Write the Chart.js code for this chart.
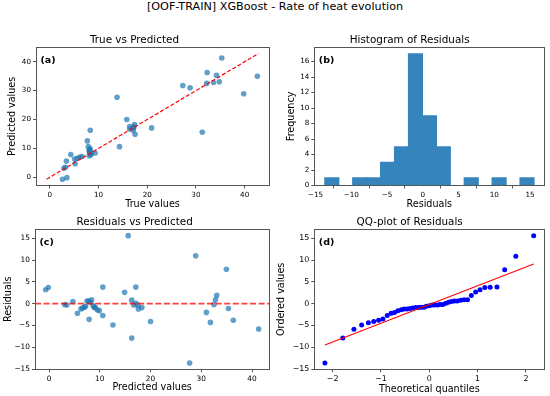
<!DOCTYPE html>
<html>
<head>
<meta charset="utf-8">
<script src="https://cdn.jsdelivr.net/npm/chart.js@4.4.1/dist/chart.umd.min.js"></script>
<style>
  body { margin:0; background:#fff; }
  #wrap { position:relative; width:550px; height:396px; overflow:hidden; font-family:"DejaVu Sans", sans-serif; }
  #sup { position:absolute; left:0; top:0; width:550px; text-align:center; font-size:11.2px; line-height:13px; color:#000; }
  canvas { position:absolute; }
</style>
</head>
<body>
<div id="wrap">
  <div id="sup">[OOF-TRAIN] XGBoost - Rate of heat evolution</div>
  <canvas id="ca" width="275" height="190" style="left:0px;top:22px"></canvas>
  <canvas id="cb" width="275" height="190" style="left:275px;top:22px"></canvas>
  <canvas id="cc" width="275" height="184" style="left:0px;top:212px"></canvas>
  <canvas id="cd" width="275" height="184" style="left:275px;top:212px"></canvas>
</div>
<script>
// predicted values (x in residual plot, y in true-vs-pred)
var predVals = [-0.66, -0.13, 3.1, 3.5, 4.7, 5.6, 6.3, 6.6, 7.0, 7.2, 7.5, 7.8, 7.9, 8.2, 8.4, 8.7, 8.9, 9.1, 9.5, 9.9,
  10.6, 10.6, 12.6, 14.9, 15.6, 16.3, 16.7, 17.1, 17.5, 17.6, 18.3, 17.1, 20.0, 16.3, 27.7, 28.9, 31.0, 31.8, 32.5, 32.8,
  33.05, 34.95, 35.35, 36.3, 41.3];
var trueVals = [2.6, 3.5, 2.9, 3.2, 5.2, 3.4, 5.1, 5.6, 6.2, 6.6, 8.1, 8.4, 4.3, 8.5, 9.3, 8.2, 8.1, 8.2, 8.1, 8.3,
  14.3, 7.9, 7.7, 17.5, 31.3, 17.1, 16.4, 17.2, 17.2, 16.4, 17.4, 20.9, 15.8, 8.3, 13.8, 39.8, 28.8, 27.3, 32.2, 33.6,
  34.8, 42.6, 34.2, 32.3, 35.3];
var residVals = [3.2, 3.7, -0.2, -0.3, 0.5, -2.2, -1.2, -1.0, -0.8, -0.6, 0.6, 0.6, -3.6, 0.3, 0.9, -0.5, -0.8, -0.9, -1.4, -1.6,
  3.8, -2.7, -4.9, 2.6, 15.6, 0.8, -0.3, 0.1, -0.3, -1.2, -0.9, 3.8, -4.1, -7.9, -13.6, 11.0, -2.0, -4.3, -0.2, 0.9,
  1.9, 7.9, -1.1, -3.8, -5.8];

// histogram
var binCenters = [-12.72, -10.77, -8.82, -6.87, -4.92, -2.97, -1.02, 0.93, 2.88, 4.83, 6.78, 8.73, 10.68, 12.63, 14.58];
var binCounts = [1, 0, 1, 1, 3, 5, 17, 9, 5, 0, 1, 0, 1, 0, 1];

// qq plot
var theoQ = [-2.16, -1.79, -1.56, -1.40, -1.26, -1.15, -1.05, -0.96, -0.87, -0.79, -0.72, -0.65, -0.58, -0.52, -0.46,
  -0.40, -0.34, -0.28, -0.22, -0.17, -0.11, -0.06, 0, 0.06, 0.11, 0.17, 0.22, 0.28, 0.34, 0.40, 0.46, 0.52, 0.58,
  0.65, 0.72, 0.79, 0.87, 0.96, 1.05, 1.15, 1.26, 1.40, 1.56, 1.79, 2.16];
var orderedVals = [-13.6, -7.9, -5.9, -4.9, -4.4, -4.1, -3.8, -3.5, -2.7, -2.2, -2.0, -1.6, -1.4, -1.2, -1.2, -1.1, -1.0,
  -0.9, -0.9, -0.8, -0.8, -0.6, -0.5, -0.3, -0.3, -0.3, -0.2, -0.2, 0.1, 0.3, 0.5, 0.6, 0.6, 0.8, 0.9, 0.9, 1.9, 2.7,
  3.2, 3.7, 3.75, 3.8, 7.8, 10.9, 15.6];
var qqLineX = [-2.16, 2.16];
var qqLineY = [-9.5, 9.1];
var idealLine = [-0.66, 42.85];

Chart.defaults.font.family = '"DejaVu Sans", sans-serif';
Chart.defaults.color = '#000';
Chart.defaults.animation = false;

var FONT = '"DejaVu Sans", sans-serif';

// box + (a) label
var framePlugin = {
  id: 'frame',
  afterDraw: function(chart) {
    var a = chart.chartArea, ctx = chart.ctx;
    ctx.save();
    ctx.strokeStyle = '#555';
    ctx.lineWidth = 1;
    ctx.strokeRect(Math.round(a.left) + 0.5, Math.round(a.top) + 0.5, Math.round(a.right - a.left), Math.round(a.bottom - a.top));
    var lab = chart.options.plugins.frame.label;
    ctx.fillStyle = '#000';
    ctx.font = 'bold 9.5px ' + FONT;
    ctx.textBaseline = 'middle';
    ctx.fillText(lab, a.left + 4.5, a.top + 13);
    ctx.restore();
  }
};

function pts(xs, ys) {
  var out = [];
  for (var i = 0; i < xs.length; i++) out.push({x: xs[i], y: ys[i]});
  return out;
}

function minus(v) {
  return String(v).replace('-', '\u2212');
}

function tk(step, size) {
  return {stepSize: step, font: {size: size}, padding: 2, maxRotation: 0, includeBounds: false,
    callback: function(v) { return minus(v); }};
}

// g: canvas top, height, area left/right/top/bottom (canvas coords), title center y, label offsets
function axes(g, xo, yo) {
  return {
    x: Object.assign({
      type: 'linear',
      offset: false,
      title: {display: true, text: g.xlabel, font: {size: 9.6}, padding: {top: 0, bottom: g.xpad}},
      grid: {display: true, drawOnChartArea: false, drawTicks: true, tickLength: 3, color: '#555'},
      border: {display: false},
      afterFit: function(s) { s.height = g.h - g.b; }
    }, xo),
    y: Object.assign({
      type: 'linear',
      title: {display: true, text: g.ylabel, font: {size: 9.6}, padding: {top: g.ypad, bottom: 0}},
      grid: {display: true, drawOnChartArea: false, drawTicks: true, tickLength: 3, color: '#555'},
      border: {display: false},
      afterFit: function(s) { s.width = g.l; }
    }, yo)
  };
}

function opts(g, xo, yo) {
  var th = 10.4 * 1.2;
  var pt = g.tc - g.top - th / 2;
  return {
    responsive: false,
    devicePixelRatio: 1,
    animation: false,
    layout: {padding: {left: 0, right: g.w - g.r, top: 0, bottom: 0}},
    plugins: {
      legend: {display: false},
      tooltip: {enabled: false},
      title: {display: true, text: g.title, font: {size: 10.4, weight: 'normal'}, color: '#000',
        padding: {top: pt, bottom: g.t - pt - th}},
      frame: {label: g.label}
    },
    scales: axes(g, xo, yo)
  };
}

var ga = {top: 22, w: 275, h: 190, l: 36, r: 269, t: 25.3, b: 163.5, tc: 40, title: 'True vs Predicted', label: '(a)',
  xlabel: 'True values', ylabel: 'Predicted values', xpad: 2.2, ypad: 6.5};
var gb = {top: 22, w: 275, h: 190, l: 39.3, r: 269.3, t: 25.3, b: 163.5, tc: 40, title: 'Histogram of Residuals', label: '(b)',
  xlabel: 'Residuals', ylabel: 'Frequency', xpad: 1.9, ypad: 11};
var gc = {top: 212, w: 275, h: 184, l: 35, r: 269.3, t: 17.3, b: 157.3, tc: 222.7, title: 'Residuals vs Predicted', label: '(c)',
  xlabel: 'Predicted values', ylabel: 'Residuals', xpad: 3, ypad: 2.5};
var gd = {top: 212, w: 275, h: 184, l: 39.3, r: 269.3, t: 17.3, b: 157.3, tc: 222.7, title: 'QQ-plot of Residuals', label: '(d)',
  xlabel: 'Theoretical quantiles', ylabel: 'Ordered values', xpad: 0.6, ypad: 1};

new Chart(document.getElementById('ca'), {
  type: 'scatter',
  data: {datasets: [
    {type: 'line', data: pts(idealLine, idealLine), borderColor: '#ff0000', borderWidth: 1.2, borderDash: [4, 2],
      pointRadius: 0, fill: false},
    {data: pts(trueVals, predVals), backgroundColor: 'rgba(31,119,180,0.7)', borderWidth: 0, pointRadius: 2.8}
  ]},
  options: opts(ga, {min: -2.84, max: 45.0, ticks: tk(10, 7.2)}, {min: -2.84, max: 45.0, ticks: tk(10, 7.2)}),
  plugins: [framePlugin]
});

new Chart(document.getElementById('cb'), {
  type: 'bar',
  data: {datasets: [
    {data: pts(binCenters, binCounts), backgroundColor: '#3585bc', borderWidth: 0, inflateAmount: 0.6,
      barPercentage: 1, categoryPercentage: 1}
  ]},
  options: opts(gb, {min: -15.17, max: 17.0, ticks: tk(5, 7.2)}, {min: 0, max: 17.85, ticks: tk(2, 7.2)}),
  plugins: [framePlugin]
});

new Chart(document.getElementById('cc'), {
  type: 'scatter',
  data: {datasets: [
    {type: 'line', data: pts([-2.76, 43.4], [0, 0]), borderColor: 'rgba(255,0,0,0.75)', borderWidth: 1.8, borderDash: [6, 2.6],
      pointRadius: 0, fill: false},
    {data: pts(predVals, residVals), backgroundColor: 'rgba(31,119,180,0.7)', borderWidth: 0, pointRadius: 2.8}
  ]},
  options: opts(gc, {min: -2.76, max: 43.4, ticks: tk(10, 7.4)}, {min: -15.06, max: 17.06, ticks: tk(5, 7.4)}),
  plugins: [framePlugin]
});

new Chart(document.getElementById('cd'), {
  type: 'scatter',
  data: {datasets: [
    {type: 'line', data: pts(qqLineX, qqLineY), borderColor: '#ff0000', borderWidth: 1.1, pointRadius: 0, fill: false},
    {data: pts(theoQ, orderedVals), backgroundColor: '#0000ff', borderWidth: 0, pointRadius: 2.5}
  ]},
  options: opts(gd, {min: -2.38, max: 2.38, ticks: tk(1, 7.9)}, {min: -15.06, max: 17.06, ticks: tk(5, 7.9)}),
  plugins: [framePlugin]
});
</script>
</body>
</html>
